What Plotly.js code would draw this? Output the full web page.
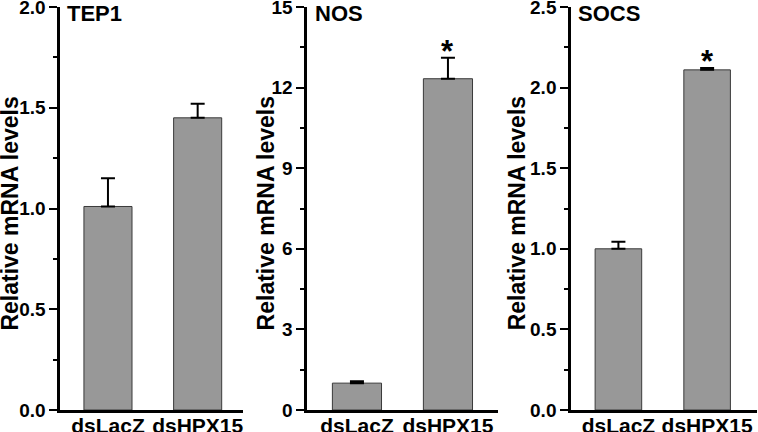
<!DOCTYPE html>
<html>
<head>
<meta charset="utf-8">
<script src="https://cdn.plot.ly/plotly-3.0.1.min.js"></script>
<style>
  html, body { margin: 0; padding: 0; background: #fff; }
  #chart { width: 758px; height: 432px; }
</style>
</head>
<body>
<div id="chart"></div>
<script>
const groups = ['dsLacZ', 'dsHPX15'];
const genes = ['TEP1', 'NOS', 'SOCS'];

const tep1Values = [1.01, 1.45];
const tep1Errors = [0.14, 0.07];
const nosValues = [1.0, 12.33];
const nosErrors = [0.07, 0.78];
const socsValues = [1.0, 2.11];
const socsErrors = [0.044, 0.012];

const yRanges = [[0, 2], [0, 15], [0, 2.5]];
const yDticks = [0.5, 3, 0.5];
const yFormats = ['.1f', 'd', '.1f'];
const significant = [[false, false], [false, true], [false, true]];
const yTitle = 'Relative mRNA levels';

const FONT = 'Liberation Sans, Arial, Helvetica, sans-serif';
const BAR_FILL = '#989898';
const BAR_LINE = '#3a3a3a';

const seriesValues = [tep1Values, nosValues, socsValues];
const seriesErrors = [tep1Errors, nosErrors, socsErrors];

const domains = [[0.079, 0.321], [0.405, 0.657], [0.753, 0.999]];
const xRanges = [[-0.536, 1.509], [-0.549, 1.55], [-0.537, 1.565]];
const barWidths = [0.536, 0.54, 0.525];
const yTitleX = [0.0135, 0.351, 0.682];

const traces = seriesValues.map((vals, i) => ({
  type: 'bar',
  x: groups,
  y: vals,
  xaxis: i === 0 ? 'x' : 'x' + (i + 1),
  yaxis: i === 0 ? 'y' : 'y' + (i + 1),
  width: groups.map(() => barWidths[i]),
  marker: { color: BAR_FILL, line: { color: BAR_LINE, width: 1 } },
  error_y: {
    type: 'data',
    symmetric: false,
    array: seriesErrors[i],
    arrayminus: groups.map(() => 0),
    color: '#000',
    thickness: 2,
    width: 7
  },
  hoverinfo: 'x+y',
  showlegend: false
}));

const layout = {
  width: 758,
  height: 432,
  paper_bgcolor: '#fff',
  plot_bgcolor: '#fff',
  margin: { t: 7, r: 0, b: 22, l: 0 },
  font: { family: FONT, color: '#000', size: 19, weight: 'bold' },
  showlegend: false,
  annotations: []
};

genes.forEach((gene, i) => {
  const sfx = i === 0 ? '' : String(i + 1);
  layout['xaxis' + sfx] = {
    domain: domains[i],
    anchor: 'y' + sfx,
    range: xRanges[i],
    showline: true,
    linecolor: '#000',
    linewidth: 2.5,
    ticks: '',
    ticklabelstandoff: -5,
    ticklabeloverflow: 'allow',
    showgrid: false,
    zeroline: false,
    fixedrange: true,
    tickfont: { family: FONT, size: 21, color: '#000', weight: 'bold' }
  };
  layout['yaxis' + sfx] = {
    anchor: 'x' + sfx,
    range: yRanges[i],
    dtick: yDticks[i],
    tick0: 0,
    tickformat: yFormats[i],
    ticks: 'outside',
    ticklen: 8,
    tickwidth: 2,
    tickcolor: '#000',
    ticklabeloverflow: 'allow',
    minor: { dtick: yDticks[i] / 2, ticks: 'outside', ticklen: 4, tickwidth: 2, tickcolor: '#000', showgrid: false },
    showline: true,
    linecolor: '#000',
    linewidth: 2.5,
    showgrid: false,
    zeroline: false,
    fixedrange: true,
    tickfont: { family: FONT, size: 19, color: '#000', weight: 'bold' }
  };

  // axis title
  layout.annotations.push({
    text: yTitle,
    xref: 'paper',
    yref: 'y' + sfx + ' domain',
    x: yTitleX[i],
    y: 0.488,
    textangle: -90,
    xanchor: 'center',
    yanchor: 'middle',
    showarrow: false,
    font: { family: FONT, size: 23, color: '#000', weight: 'bold' }
  });

  // panel label
  layout.annotations.push({
    text: gene,
    xref: 'x' + sfx + ' domain',
    yref: 'y' + sfx + ' domain',
    x: 0.03,
    y: 1.02,
    xanchor: 'left',
    yanchor: 'top',
    showarrow: false,
    font: { family: FONT, size: 22, color: '#000', weight: 'bold' }
  });

  significant[i].forEach((sig, j) => {
    if (!sig) return;
    layout.annotations.push({
      text: '*',
      xref: 'x' + sfx,
      yref: 'y' + sfx,
      x: groups[j],
      y: seriesValues[i][j] + seriesErrors[i][j],
      yanchor: 'bottom',
      yshift: -13,
      showarrow: false,
      font: { family: FONT, size: 31, color: '#000', weight: 'bold' }
    });
  });
});

Plotly.newPlot('chart', traces, layout, { displayModeBar: false, staticPlot: true });
</script>
</body>
</html>
